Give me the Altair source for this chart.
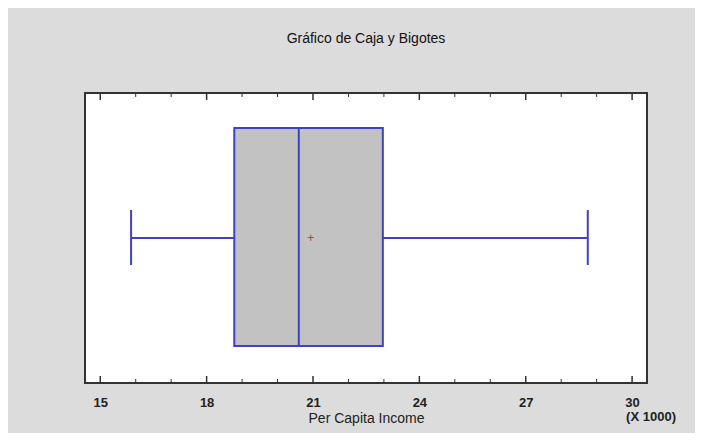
import altair as alt
import pandas as pd

# Box-plot statistics (x 1000)
stat_names = ["min", "q1", "median", "q3", "max", "mean"]
stat_values = [15.87, 18.78, 20.6, 22.97, 28.75, 20.94]
major_ticks = [15, 18, 21, 24, 27, 30]
minor_ticks = [16, 17, 19, 20, 22, 23, 25, 26, 28, 29]

s = dict(zip(stat_names, stat_values))
box_df = pd.DataFrame([s])
major_df = pd.DataFrame({"v": major_ticks})
minor_df = pd.DataFrame({"v": minor_ticks})

W, H = 562, 290
BLUE = "#4040c8"
dom = [14.57, 30.42]

xscale = alt.Scale(domain=dom, nice=False, zero=False)
xaxis = alt.Axis(values=major_ticks, ticks=False, domain=False, grid=False,
                 labelPadding=13, labelFontSize=13, labelFontWeight="bold",
                 labelColor="#222", labelFont="Liberation Sans",
                 title="Per Capita Income", titleFontSize=14, titleFontWeight="normal",
                 titleFont="Liberation Sans", titleColor="#222", titlePadding=2)

base = alt.Chart(box_df)

box = base.mark_bar(fill="#c2c2c2", stroke=BLUE, strokeWidth=2).encode(
    x=alt.X("q1:Q", scale=xscale, axis=xaxis),
    x2="q3:Q",
    y=alt.value(35), y2=alt.value(253))

median = base.mark_rule(color=BLUE, strokeWidth=2).encode(
    x="median:Q", y=alt.value(35), y2=alt.value(253))

wlow = base.mark_rule(color=BLUE, strokeWidth=2).encode(
    x="min:Q", x2="q1:Q", y=alt.value(145))
whigh = base.mark_rule(color=BLUE, strokeWidth=2).encode(
    x="q3:Q", x2="max:Q", y=alt.value(145))
cap_low = base.mark_rule(color=BLUE, strokeWidth=2).encode(
    x="min:Q", y=alt.value(117), y2=alt.value(172))
cap_high = base.mark_rule(color=BLUE, strokeWidth=2).encode(
    x="max:Q", y=alt.value(117), y2=alt.value(172))

mean = base.mark_text(text="+", color="#a05030", fontSize=12, font="Liberation Sans").encode(
    x="mean:Q", y=alt.value(145))

maj_b = alt.Chart(major_df).mark_rule(color="#333", strokeWidth=1.5).encode(
    x="v:Q", y=alt.value(H), y2=alt.value(H - 7))
maj_t = alt.Chart(major_df).mark_rule(color="#333", strokeWidth=1.5).encode(
    x="v:Q", y=alt.value(0), y2=alt.value(7))
min_b = alt.Chart(minor_df).mark_rule(color="#333", strokeWidth=1).encode(
    x="v:Q", y=alt.value(H), y2=alt.value(H - 4))
min_t = alt.Chart(minor_df).mark_rule(color="#333", strokeWidth=1).encode(
    x="v:Q", y=alt.value(0), y2=alt.value(4))

mult = alt.Chart(major_df).transform_filter("datum.v == 30").mark_text(
    text="(X 1000)", fontSize=13, fontWeight="bold", font="Liberation Sans",
    color="#222", align="left", baseline="top", dx=-6).encode(
    x="v:Q", y=alt.value(H + 28))

chart = alt.layer(box, wlow, whigh, cap_low, cap_high, median, mean,
                  maj_b, maj_t, min_b, min_t, mult).properties(
    width=W, height=H,
    title=alt.Title("Gráfico de Caja y Bigotes", fontSize=14, fontWeight="normal",
                    font="Liberation Sans", color="#111", offset=46),
    background="#dcdcdc",
    padding={"left": 77, "top": 85, "right": 48, "bottom": 50},
    autosize="none",
).configure_view(stroke="#333", strokeWidth=2, fill="white")

chart.save("out.html", embed_options={"renderer": "svg", "actions": False})
